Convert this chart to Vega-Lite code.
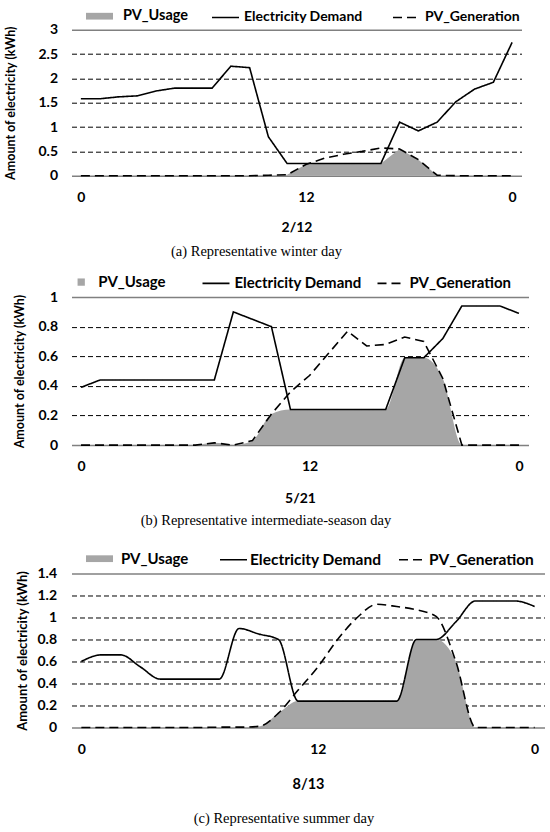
{
  "$schema": "https://vega.github.io/schema/vega-lite/v6.json",
  "padding": {"left": 4.5, "top": 2.7, "right": 0, "bottom": 0},
  "config": {
    "view": {"stroke": null},
    "font": "Lato",
    "axis": {"labelFont": "Lato", "labelFontWeight": "bold", "labelFontSize": 14, "labelColor": "#000000", "titleFont": "Lato", "titleFontWeight": "bold", "titleColor": "#000000", "domain": false, "ticks": false},
    "legend": {"orient": "none", "direction": "horizontal", "title": null, "labelFont": "Lato", "labelFontWeight": "bold", "labelColor": "#000000", "symbolSize": 729, "symbolOpacity": 1},
    "title": {"font": "Liberation Serif", "fontSize": 14.5, "fontWeight": "normal", "color": "#000000"}
  },
  "datasets": {
    "d": [
      {"panel": "a", "h": 0, "demand": 1.58, "gen": 0, "usage": 0},
      {"panel": "a", "h": 1, "demand": 1.58, "gen": 0, "usage": 0},
      {"panel": "a", "h": 2, "demand": 1.62, "gen": 0, "usage": 0},
      {"panel": "a", "h": 3, "demand": 1.64, "gen": 0, "usage": 0},
      {"panel": "a", "h": 4, "demand": 1.74, "gen": 0, "usage": 0},
      {"panel": "a", "h": 5, "demand": 1.8, "gen": 0, "usage": 0},
      {"panel": "a", "h": 6, "demand": 1.8, "gen": 0, "usage": 0},
      {"panel": "a", "h": 7, "demand": 1.8, "gen": 0, "usage": 0},
      {"panel": "a", "h": 8, "demand": 2.25, "gen": 0, "usage": 0},
      {"panel": "a", "h": 9, "demand": 2.22, "gen": 0, "usage": 0},
      {"panel": "a", "h": 10, "demand": 0.8, "gen": 0.01, "usage": 0.01},
      {"panel": "a", "h": 11, "demand": 0.25, "gen": 0.02, "usage": 0.02},
      {"panel": "a", "h": 12, "demand": 0.25, "gen": 0.23, "usage": 0.23},
      {"panel": "a", "h": 13, "demand": 0.25, "gen": 0.36, "usage": 0.25},
      {"panel": "a", "h": 14, "demand": 0.25, "gen": 0.44, "usage": 0.25},
      {"panel": "a", "h": 15, "demand": 0.25, "gen": 0.5, "usage": 0.25},
      {"panel": "a", "h": 16, "demand": 0.25, "gen": 0.57, "usage": 0.25},
      {"panel": "a", "h": 17, "demand": 1.1, "gen": 0.55, "usage": 0.55},
      {"panel": "a", "h": 18, "demand": 0.92, "gen": 0.33, "usage": 0.33},
      {"panel": "a", "h": 19, "demand": 1.1, "gen": 0.01, "usage": 0.01},
      {"panel": "a", "h": 20, "demand": 1.52, "gen": 0, "usage": 0},
      {"panel": "a", "h": 21, "demand": 1.78, "gen": 0, "usage": 0},
      {"panel": "a", "h": 22, "demand": 1.92, "gen": 0, "usage": 0},
      {"panel": "a", "h": 23, "demand": 2.74, "gen": 0, "usage": 0},
      {"panel": "b", "h": 0, "demand": 0.39, "gen": 0, "usage": 0},
      {"panel": "b", "h": 1, "demand": 0.44, "gen": 0, "usage": 0},
      {"panel": "b", "h": 2, "demand": 0.44, "gen": 0, "usage": 0},
      {"panel": "b", "h": 3, "demand": 0.44, "gen": 0, "usage": 0},
      {"panel": "b", "h": 4, "demand": 0.44, "gen": 0, "usage": 0},
      {"panel": "b", "h": 5, "demand": 0.44, "gen": 0, "usage": 0},
      {"panel": "b", "h": 6, "demand": 0.44, "gen": 0, "usage": 0},
      {"panel": "b", "h": 7, "demand": 0.44, "gen": 0.015, "usage": 0.015},
      {"panel": "b", "h": 8, "demand": 0.9, "gen": 0, "usage": 0},
      {"panel": "b", "h": 9, "demand": 0.85, "gen": 0.03, "usage": 0.03},
      {"panel": "b", "h": 10, "demand": 0.8, "gen": 0.21, "usage": 0.21},
      {"panel": "b", "h": 11, "demand": 0.24, "gen": 0.36, "usage": 0.24},
      {"panel": "b", "h": 12, "demand": 0.24, "gen": 0.47, "usage": 0.24},
      {"panel": "b", "h": 13, "demand": 0.24, "gen": 0.62, "usage": 0.24},
      {"panel": "b", "h": 14, "demand": 0.24, "gen": 0.77, "usage": 0.24},
      {"panel": "b", "h": 15, "demand": 0.24, "gen": 0.67, "usage": 0.24},
      {"panel": "b", "h": 16, "demand": 0.24, "gen": 0.68, "usage": 0.24},
      {"panel": "b", "h": 17, "demand": 0.59, "gen": 0.73, "usage": 0.59},
      {"panel": "b", "h": 18, "demand": 0.59, "gen": 0.7, "usage": 0.59},
      {"panel": "b", "h": 19, "demand": 0.72, "gen": 0.45, "usage": 0.45},
      {"panel": "b", "h": 20, "demand": 0.94, "gen": 0, "usage": 0},
      {"panel": "b", "h": 21, "demand": 0.94, "gen": 0, "usage": 0},
      {"panel": "b", "h": 22, "demand": 0.94, "gen": 0, "usage": 0},
      {"panel": "b", "h": 23, "demand": 0.89, "gen": 0, "usage": 0},
      {"panel": "c", "h": 0, "demand": 0.6, "gen": 0, "usage": 0},
      {"panel": "c", "h": 1, "demand": 0.66, "gen": 0, "usage": 0},
      {"panel": "c", "h": 2, "demand": 0.66, "gen": 0, "usage": 0},
      {"panel": "c", "h": 3, "demand": 0.55, "gen": 0, "usage": 0},
      {"panel": "c", "h": 4, "demand": 0.44, "gen": 0, "usage": 0},
      {"panel": "c", "h": 5, "demand": 0.44, "gen": 0, "usage": 0},
      {"panel": "c", "h": 6, "demand": 0.44, "gen": 0, "usage": 0},
      {"panel": "c", "h": 7, "demand": 0.44, "gen": 0.003, "usage": 0.003},
      {"panel": "c", "h": 8, "demand": 0.9, "gen": 0.003, "usage": 0.003},
      {"panel": "c", "h": 9, "demand": 0.85, "gen": 0.01, "usage": 0.01},
      {"panel": "c", "h": 10, "demand": 0.8, "gen": 0.13, "usage": 0.13},
      {"panel": "c", "h": 11, "demand": 0.24, "gen": 0.34, "usage": 0.24},
      {"panel": "c", "h": 12, "demand": 0.24, "gen": 0.55, "usage": 0.24},
      {"panel": "c", "h": 13, "demand": 0.24, "gen": 0.8, "usage": 0.24},
      {"panel": "c", "h": 14, "demand": 0.24, "gen": 1.0, "usage": 0.24},
      {"panel": "c", "h": 15, "demand": 0.24, "gen": 1.12, "usage": 0.24},
      {"panel": "c", "h": 16, "demand": 0.24, "gen": 1.1, "usage": 0.24},
      {"panel": "c", "h": 17, "demand": 0.8, "gen": 1.07, "usage": 0.8},
      {"panel": "c", "h": 18, "demand": 0.8, "gen": 1.01, "usage": 0.8},
      {"panel": "c", "h": 19, "demand": 0.96, "gen": 0.6, "usage": 0.6},
      {"panel": "c", "h": 20, "demand": 1.15, "gen": 0, "usage": 0},
      {"panel": "c", "h": 21, "demand": 1.15, "gen": 0, "usage": 0},
      {"panel": "c", "h": 22, "demand": 1.15, "gen": 0, "usage": 0},
      {"panel": "c", "h": 23, "demand": 1.1, "gen": 0, "usage": 0}
    ]
  },
  "spacing": 8.4,
  "resolve": {
    "scale": {"x": "independent", "y": "independent", "fill": "independent", "strokeDash": "independent"},
    "legend": {"fill": "independent", "strokeDash": "independent"}
  },
  "vconcat": [
    {
      "width": 450,
      "height": 146,
      "title": {"text": "(a) Representative winter day", "orient": "bottom", "anchor": "middle", "dx": -40, "offset": 11},
      "data": {"name": "d"},
      "transform": [
        {"filter": "datum.panel === 'a'"},
        {"fold": ["usage", "demand", "gen"], "as": ["series", "value"]}
      ],
      "encoding": {
        "x": {"field": "h", "type": "quantitative", "scale": {"domain": [-0.5, 23.5], "nice": false, "zero": false},
          "axis": {"values": [0, 12, 23], "labelExpr": "datum.value === 23 ? '0' : datum.label", "labelFlush": false, "title": "2/12", "titleFontSize": 14, "labelPadding": 15, "titlePadding": 15.6, "grid": false}},
        "y": {"field": "value", "type": "quantitative", "scale": {"domain": [0, 3], "nice": false, "zero": false},
          "axis": {"values": [0, 0.5, 1, 1.5, 2, 2.5, 3], "format": "~g", "title": "Amount of electricity (kWh)", "titleFontSize": 12.5, "titlePadding": 20, "labelPadding": 14, "grid": true,
            "gridDash": {"condition": {"test": "datum.value === 0 || datum.value === 3", "value": []}, "value": [5, 3]},
            "gridColor": {"condition": {"test": "datum.value === 0 || datum.value === 3", "value": "#808080"}, "value": "#000000"},
            "gridWidth": {"condition": {"test": "datum.value === 0 || datum.value === 3", "value": 1.5}, "value": 1}}}
      },
      "layer": [
        {
          "transform": [{"filter": "datum.series === 'usage'"}],
          "mark": {"type": "area", "interpolate": "linear", "opacity": 1},
          "encoding": {
            "y2": {"datum": 0},
            "fill": {"field": "series", "type": "nominal", "scale": {"domain": ["usage"], "range": ["#a6a6a6"]},
              "legend": {"legendX": 14.5, "legendY": -27, "labelFontSize": 14.5, "labelOffset": 10, "symbolType": "M-1,-0.25H1V0.25H-1Z", "symbolStrokeWidth": 0, "labelExpr": "'PV_Usage'"}}
          }
        },
        {
          "transform": [{"filter": "datum.series !== 'usage'"}],
          "mark": {"type": "line", "strokeWidth": 1.6, "color": "#000000"},
          "encoding": {
            "strokeDash": {"field": "series", "type": "nominal", "scale": {"domain": ["demand", "gen"], "range": [[1, 0], [9, 5]]},
              "legend": {"legendX": 139.5, "legendY": -27, "labelFontSize": 14, "labelOffset": 4, "columnPadding": 26, "symbolType": "stroke", "symbolStrokeColor": "#000000", "symbolStrokeWidth": 1.6,
                "labelExpr": "datum.label === 'demand' ? 'Electricity Demand' : 'PV_Generation'"}}
          }
        },
        {
          "data": {"values": [{}]},
          "mark": {"type": "rule", "color": "#808080", "strokeWidth": 1.5},
          "encoding": {"x": {"datum": -0.5}, "y": {"datum": -1.23}, "y2": {"datum": 3}}
        },
        {
          "data": {"values": [{}]},
          "mark": {"type": "rule", "color": "#808080", "strokeWidth": 1.5},
          "encoding": {"x": {"datum": 23.5}, "y": {"datum": -1.23}, "y2": {"datum": 3}}
        }
      ]
    },
    {
      "width": 457,
      "height": 148,
      "title": {"text": "(b) Representative intermediate-season day", "orient": "bottom", "anchor": "middle", "dx": -34, "offset": 8.4},
      "data": {"name": "d"},
      "transform": [
        {"filter": "datum.panel === 'b'"},
        {"fold": ["usage", "demand", "gen"], "as": ["series", "value"]}
      ],
      "encoding": {
        "x": {"field": "h", "type": "quantitative", "scale": {"domain": [-0.5, 23.5], "nice": false, "zero": false},
          "axis": {"values": [0, 12, 23], "labelExpr": "datum.value === 23 ? '0' : datum.label", "labelFlush": false, "title": "5/21", "titleFontSize": 14, "labelPadding": 14, "titlePadding": 18.5, "grid": false}},
        "y": {"field": "value", "type": "quantitative", "scale": {"domain": [0, 1], "nice": false, "zero": false},
          "axis": {"values": [0, 0.2, 0.4, 0.6, 0.8, 1], "format": "~g", "title": "Amount of electricity (kWh)", "titleFontSize": 12.5, "titlePadding": 11.7, "labelPadding": 14, "grid": true,
            "gridDash": {"condition": {"test": "datum.value === 0 || datum.value === 1", "value": []}, "value": [5, 3]},
            "gridColor": {"condition": {"test": "datum.value === 0 || datum.value === 1", "value": "#808080"}, "value": "#000000"},
            "gridWidth": {"condition": {"test": "datum.value === 0 || datum.value === 1", "value": 1.5}, "value": 1}}}
      },
      "layer": [
        {
          "transform": [{"filter": "datum.series === 'usage'"}],
          "mark": {"type": "area", "interpolate": "monotone", "opacity": 1},
          "encoding": {
            "y2": {"datum": 0},
            "fill": {"field": "series", "type": "nominal", "scale": {"domain": ["usage"], "range": ["#a6a6a6"]},
              "legend": {"legendX": -3.8, "legendY": -28.5, "labelFontSize": 15, "labelOffset": 3.6, "symbolType": "M-0.27,-0.27H0.27V0.27H-0.27Z", "symbolStrokeWidth": 0, "labelExpr": "'PV_Usage'"}}
          }
        },
        {
          "transform": [{"filter": "datum.series !== 'usage'"}],
          "mark": {"type": "line", "strokeWidth": 1.6, "color": "#000000"},
          "encoding": {
            "strokeDash": {"field": "series", "type": "nominal", "scale": {"domain": ["demand", "gen"], "range": [[1, 0], [9, 5]]},
              "legend": {"legendX": 130, "legendY": -28.5, "labelFontSize": 15, "labelOffset": 4, "columnPadding": 11, "symbolType": "stroke", "symbolStrokeColor": "#000000", "symbolStrokeWidth": 1.6,
                "labelExpr": "datum.label === 'demand' ? 'Electricity Demand' : 'PV_Generation'"}}
          }
        },
        {
          "data": {"values": [{}]},
          "mark": {"type": "rule", "color": "#808080", "strokeWidth": 1.5},
          "encoding": {"x": {"datum": -0.5}, "y": {"datum": -0.405}, "y2": {"datum": 1}}
        },
        {
          "data": {"values": [{}]},
          "mark": {"type": "rule", "color": "#808080", "strokeWidth": 1.5},
          "encoding": {"x": {"datum": 23.5}, "y": {"datum": -0.405}, "y2": {"datum": 1}}
        }
      ]
    },
    {
      "width": 473,
      "height": 154,
      "title": {"text": "(c) Representative summer day", "orient": "bottom", "anchor": "middle", "dx": -24, "offset": 21},
      "data": {"name": "d"},
      "transform": [
        {"filter": "datum.panel === 'c'"},
        {"fold": ["usage", "demand", "gen"], "as": ["series", "value"]}
      ],
      "encoding": {
        "x": {"field": "h", "type": "quantitative", "scale": {"domain": [-0.5, 23.5], "nice": false, "zero": false},
          "axis": {"values": [0, 12, 23], "labelExpr": "datum.value === 23 ? '0' : datum.label", "labelFlush": false, "title": "8/13", "titleFontSize": 14.5, "labelPadding": 14.6, "titlePadding": 21.1, "grid": false}},
        "y": {"field": "value", "type": "quantitative", "scale": {"domain": [0, 1.4], "nice": false, "zero": false},
          "axis": {"values": [0, 0.2, 0.4, 0.6, 0.8, 1, 1.2, 1.4], "format": "~g", "title": "Amount of electricity (kWh)", "titleFontSize": 13, "titlePadding": 7.7, "labelPadding": 15, "grid": true,
            "gridDash": {"condition": {"test": "datum.value === 0 || datum.value === 1.4", "value": []}, "value": [5, 3]},
            "gridColor": {"condition": {"test": "datum.value === 0 || datum.value === 1.4", "value": "#808080"}, "value": "#000000"},
            "gridWidth": {"condition": {"test": "datum.value === 0 || datum.value === 1.4", "value": 1.5}, "value": 1}}}
      },
      "layer": [
        {
          "transform": [{"filter": "datum.series === 'usage'"}],
          "mark": {"type": "area", "interpolate": "monotone", "opacity": 1},
          "encoding": {
            "y2": {"datum": 0},
            "fill": {"field": "series", "type": "nominal", "scale": {"domain": ["usage"], "range": ["#a6a6a6"]},
              "legend": {"legendX": 6.2, "legendY": -36.6, "padding": 8.3, "labelFontSize": 15, "labelOffset": 8, "symbolType": "M-1,-0.25H1V0.25H-1Z", "symbolStrokeWidth": 0, "labelExpr": "'PV_Usage'"}}
          }
        },
        {
          "transform": [{"filter": "datum.series !== 'usage'"}],
          "mark": {"type": "line", "strokeWidth": 1.6, "color": "#000000", "interpolate": "monotone"},
          "encoding": {
            "strokeDash": {"field": "series", "type": "nominal", "scale": {"domain": ["demand", "gen"], "range": [[1, 0], [9, 5]]},
              "legend": {"legendX": 147.5, "legendY": -28.3, "labelFontSize": 15.5, "labelOffset": 2, "columnPadding": 13, "symbolType": "stroke", "symbolStrokeColor": "#000000", "symbolStrokeWidth": 1.6,
                "labelExpr": "datum.label === 'demand' ? 'Electricity Demand' : 'PV_Generation'"}}
          }
        },
        {
          "data": {"values": [{}]},
          "mark": {"type": "rule", "color": "#808080", "strokeWidth": 1.5},
          "encoding": {"x": {"datum": -0.5}, "y": {"datum": -0.564}, "y2": {"datum": 1.4}}
        },
        {
          "data": {"values": [{}]},
          "mark": {"type": "rule", "color": "#808080", "strokeWidth": 1.5},
          "encoding": {"x": {"datum": 23.5}, "y": {"datum": -0.564}, "y2": {"datum": 1.4}}
        }
      ]
    }
  ]
}
